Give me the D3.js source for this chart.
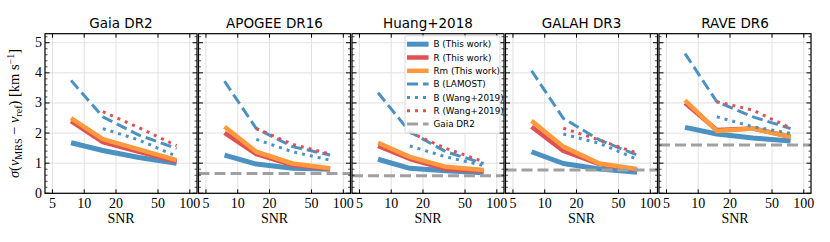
<!DOCTYPE html>
<html>
<head>
<meta charset="utf-8">
<script src="https://cdn.jsdelivr.net/npm/d3@7"></script>
<style>
  body { margin: 0; background: #fff; }
  svg text { fill: #000; }
</style>
</head>
<body>
<div id="chart"></div>
<script>
// survey panels and SNR bins
const surveys = ["Gaia DR2", "APOGEE DR16", "Huang+2018", "GALAH DR3", "RAVE DR6"];
const snr = [7.5, 15, 33, 75];
const snrWang = [15, 33, 75];

// sigma values per panel (km/s)
const bThis  = [[1.68, 1.42, 1.19, 1.00], [1.27, 0.97, 0.83, 0.80], [1.13, 0.83, 0.75, 0.68], [1.38, 0.99, 0.81, 0.70], [2.19, 1.97, 1.84, 1.74]];
const rThis  = [[2.40, 1.70, 1.38, 1.05], [2.01, 1.30, 0.94, 0.81], [1.57, 1.14, 0.80, 0.74], [2.21, 1.41, 0.97, 0.77], [3.00, 2.10, 2.15, 1.88]];
const rmThis = [[2.50, 1.80, 1.46, 1.10], [2.21, 1.38, 0.99, 0.83], [1.68, 1.21, 0.88, 0.77], [2.41, 1.55, 0.99, 0.81], [3.09, 2.07, 2.15, 1.88]];
const bLamost = [[3.75, 2.54, 1.93, 1.49], [3.72, 2.15, 1.55, 1.27], [3.34, 2.04, 1.38, 0.99], [4.07, 2.49, 1.77, 1.27], [4.64, 3.04, 2.54, 2.15]];
const bWang = [[2.15, 1.77, 1.23], [1.79, 1.38, 1.10], [1.57, 1.21, 0.92], [1.97, 1.66, 1.13], [2.54, 2.21, 1.99]];
const rWang = [[2.71, 2.18, 1.58], [2.15, 1.63, 1.30], [2.02, 1.49, 1.05], [2.16, 1.77, 1.33], [3.04, 2.76, 2.17]];
const gaiaRef = [null, 0.66, 0.58, 0.77, 1.60];

const xTicks = [5, 10, 20, 50, 100];
const yTicks = [0, 1, 2, 3, 4, 5];
const legendLabels = ["B (This work)", "R (This work)", "Rm (This work)", "B (LAMOST)", "B (Wang+2019)", "R (Wang+2019)", "Gaia DR2"];

const W = 830, H = 242;
const margin = {left: 45, top: 33.7};
const pw = 152, ph = 159.6, gap = 1.5;

const blue = "#4b92c3", red = "#de5253", orange = "#ff993e", grey = "#a0a0a0";

// style for each series
const series = [
  {label: legendLabels[0], data: bThis,   xs: snr,     color: blue,   w: 5,   dash: null},
  {label: legendLabels[1], data: rThis,   xs: snr,     color: red,    w: 4.5, dash: null},
  {label: legendLabels[2], data: rmThis,  xs: snr,     color: orange, w: 4.5, dash: null},
  {label: legendLabels[3], data: bLamost, xs: snr,     color: blue,   w: 3,   dash: "11,5"},
  {label: legendLabels[4], data: bWang,   xs: snrWang, color: blue,   w: 3,   dash: "3,5"},
  {label: legendLabels[5], data: rWang,   xs: snrWang, color: red,    w: 3,   dash: "3,5"}
];

const svg = d3.select("#chart").append("svg")
  .attr("width", W)
  .attr("height", H);

const x = d3.scaleLog().domain([4.25, 117]).range([0, pw]);
const y = d3.scaleLinear().domain([0, 5.3]).range([ph, 0]);

const line = d3.line()
  .x(d => x(d[0]))
  .y(d => y(d[1]));

surveys.forEach(function(name, i) {
  const g = svg.append("g")
    .attr("transform", "translate(" + (margin.left + i * (pw + gap)) + "," + margin.top + ")");

  // grid
  g.selectAll(".gx").data(xTicks).enter().append("line")
    .attr("x1", d => x(d)).attr("x2", d => x(d))
    .attr("y1", 0).attr("y2", ph)
    .attr("stroke", "#dedede").attr("stroke-width", 0.9);
  g.selectAll(".gy").data(yTicks).enter().append("line")
    .attr("x1", 0).attr("x2", pw)
    .attr("y1", d => y(d)).attr("y2", d => y(d))
    .attr("stroke", "#dedede").attr("stroke-width", 0.9);

  g.append("clipPath").attr("id", "clip" + i)
    .append("rect").attr("width", pw).attr("height", ph);

  const plot = g.append("g").attr("clip-path", "url(#clip" + i + ")");

  series.forEach(function(s) {
    const pts = s.xs.map((v, k) => [v, s.data[i][k]]);
    plot.append("path")
      .datum(pts)
      .attr("d", line)
      .attr("fill", "none")
      .attr("stroke", s.color)
      .attr("stroke-width", s.w)
      .attr("stroke-dasharray", s.dash)
      .attr("stroke-linejoin", "round");
  });

  if (gaiaRef[i] !== null) {
    plot.append("line")
      .attr("x1", 0).attr("x2", pw)
      .attr("y1", y(gaiaRef[i])).attr("y2", y(gaiaRef[i]))
      .attr("stroke", grey).attr("stroke-width", 3)
      .attr("stroke-dasharray", "11,5");
  }

  // ticks, all pointing inward
  const ax = g.append("g").attr("stroke", "#000");
  xTicks.forEach(function(t) {
    ax.append("line").attr("x1", x(t)).attr("x2", x(t)).attr("y1", ph).attr("y2", ph - 4).attr("stroke-width", 1);
    ax.append("line").attr("x1", x(t)).attr("x2", x(t)).attr("y1", 0).attr("y2", 4).attr("stroke-width", 1);
  });
  d3.range(0, 5.31, 0.2).forEach(function(t) {
    const major = Math.abs(t - Math.round(t)) < 1e-6;
    const len = major ? 4.5 : 2.5;
    ax.append("line").attr("x1", 0).attr("x2", len).attr("y1", y(t)).attr("y2", y(t)).attr("stroke-width", major ? 1 : 0.7);
    ax.append("line").attr("x1", pw).attr("x2", pw - len).attr("y1", y(t)).attr("y2", y(t)).attr("stroke-width", major ? 1 : 0.7);
  });

  g.append("rect")
    .attr("width", pw).attr("height", ph)
    .attr("fill", "none").attr("stroke", "#000").attr("stroke-width", 1.2);

  // x tick labels
  g.selectAll(".xl").data(xTicks).enter().append("text")
    .attr("x", d => x(d)).attr("y", ph + 14.5)
    .attr("text-anchor", "middle")
    .style("font-family", "'Liberation Serif', 'DejaVu Serif', serif")
    .style("font-size", "14px")
    .text(d => d);

  g.append("text")
    .attr("x", pw / 2).attr("y", ph + 29.5)
    .attr("text-anchor", "middle")
    .style("font-family", "'Liberation Serif', 'DejaVu Serif', serif")
    .style("font-size", "14px")
    .text("SNR");

  g.append("text")
    .attr("x", pw / 2).attr("y", -5.5)
    .attr("text-anchor", "middle")
    .style("font-family", "'DejaVu Sans', sans-serif")
    .style("font-size", "13.5px")
    .text(name);

  if (i === 0) {
    g.selectAll(".yl").data(yTicks).enter().append("text")
      .attr("x", -3).attr("y", d => y(d) + 4.5)
      .attr("text-anchor", "end")
      .style("font-family", "'Liberation Serif', 'DejaVu Serif', serif")
      .style("font-size", "14px")
      .text(d => d);
  }

  if (i === 2) {
    // legend
    const lg = g.append("g").attr("transform", "translate(" + (pw - 99) + ",2)");
    lg.append("rect")
      .attr("width", 95).attr("height", 97.5)
      .attr("rx", 2)
      .attr("fill", "#fff").attr("fill-opacity", 0.85)
      .attr("stroke", "#d0d0d0").attr("stroke-width", 0.8);
    const items = series.concat([{label: legendLabels[6], color: grey, w: 3, dash: "11,5"}]);
    items.forEach(function(s, k) {
      const ly = 8.5 + k * 13.3;
      lg.append("line")
        .attr("x1", 2).attr("x2", 23.6)
        .attr("y1", ly).attr("y2", ly)
        .attr("stroke", s.color).attr("stroke-width", s.w)
        .attr("stroke-dasharray", s.dash);
      lg.append("text")
        .attr("x", 28.5).attr("y", ly + 3.2)
        .style("font-family", "'DejaVu Sans', sans-serif")
        .style("font-size", "8.8px")
        .text(s.label);
    });
  }
});

// y axis label with math parts
const yl = svg.append("text")
  .attr("transform", "translate(19," + (margin.top + ph / 2) + ") rotate(-90)")
  .attr("text-anchor", "middle")
  .style("font-family", "'Liberation Serif', 'DejaVu Serif', serif")
  .style("font-size", "14.5px");
yl.append("tspan").style("font-style", "italic").text("σ");
yl.append("tspan").text("(");
yl.append("tspan").style("font-style", "italic").text("v");
yl.append("tspan").attr("dy", 3).style("font-size", "10px").text("MRS");
yl.append("tspan").attr("dy", -3).text(" − ");
yl.append("tspan").style("font-style", "italic").text("v");
yl.append("tspan").attr("dy", 3).style("font-size", "10px").text("ref");
yl.append("tspan").attr("dy", -3).text(") [km s");
yl.append("tspan").attr("dy", -5).style("font-size", "10px").text("−1");
yl.append("tspan").attr("dy", 5).text("]");
</script>
</body>
</html>
